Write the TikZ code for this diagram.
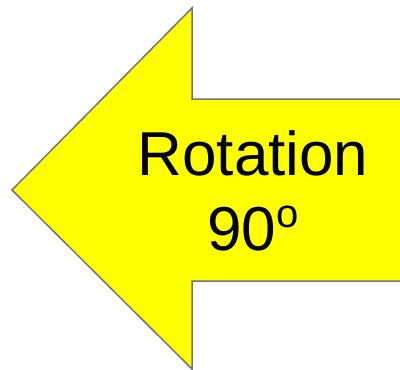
\documentclass[tikz,border=0pt]{standalone}
\usepackage{fontspec}
\setmainfont{Liberation Sans}
\definecolor{arrowfill}{RGB}{255,255,0}
\definecolor{arrowline}{RGB}{117,117,117}
\begin{document}
\begin{tikzpicture}[x=1pt,y=-1pt,
  arrowshape/.style={fill=arrowfill,draw=arrowline,line width=1.5pt,line join=miter},
  label/.style={font=\fontsize{62}{75}\selectfont,align=center,inner sep=0pt}]
\useasboundingbox (0,0) rectangle (400,370);
\coordinate (tip) at (12,190);
\coordinate (ht) at (192,8);
\coordinate (st) at (192,99);
\coordinate (str) at (401,99);
\coordinate (sbr) at (401,281);
\coordinate (sb) at (192,281);
\coordinate (hb) at (192,369);
\draw[arrowshape] (tip) -- (ht) -- (st) -- (str) -- (sbr) -- (sb) -- (hb) -- cycle;
\node[label,anchor=base] (l1) at (253,175) {Rotation};
\node[label,anchor=base] (l2) at (253,250) {90\raisebox{23pt}{\fontsize{40}{40}\selectfont o}};
\end{tikzpicture}
\end{document}
